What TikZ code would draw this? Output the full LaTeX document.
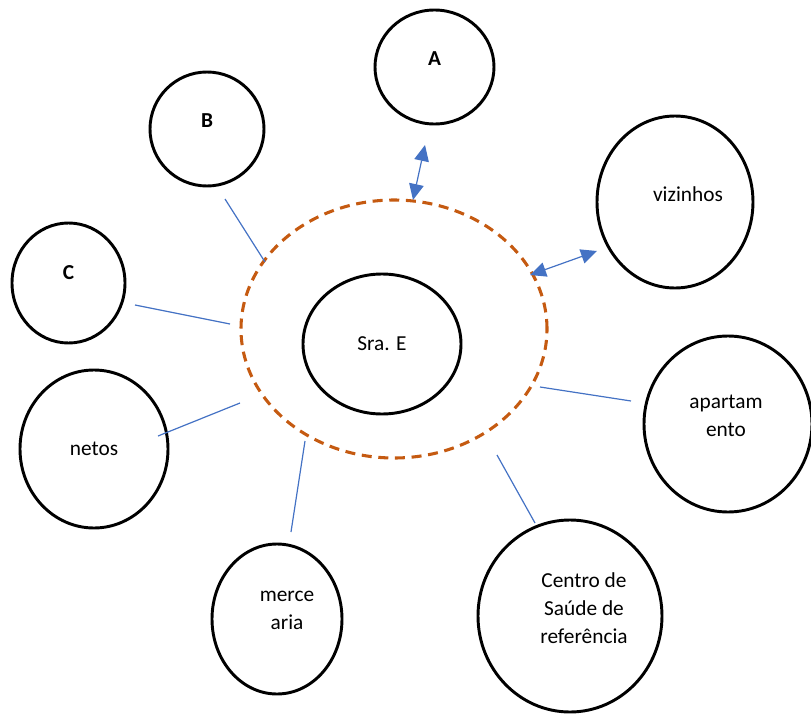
\documentclass[tikz,border=0pt]{standalone}
\usepackage{fontspec}
\setmainfont{Carlito}
\usetikzlibrary{arrows.meta, shapes.geometric}
\definecolor{ringorange}{HTML}{C55A11}
\definecolor{linkblue}{HTML}{4472C4}

\begin{document}
\begin{tikzpicture}[x=0.75pt, y=-0.75pt,
    every node/.style={font=\fontsize{16}{21}\selectfont},
    bubble/.style={ellipse, draw=black, line width=2.2pt, inner sep=0pt},
    ring/.style={ellipse, draw=ringorange, line width=2.3pt, dash pattern=on 7.5pt off 5pt, inner sep=0pt},
    link/.style={draw=linkblue, line width=0.9pt},
    dlink/.style={link, {Triangle[length=12pt, width=11pt]}-{Triangle[length=12pt, width=11pt]}}]
    \useasboundingbox (0,0) rectangle (811,714);

    % inner circle
    \node[ring, minimum width=229.5pt, minimum height=193.5pt] (ring) at (394,329) {};
    \node[bubble, minimum width=118.5pt, minimum height=105pt] (sra) at (382,344) {Sra. E};

    % people and places
    \node[bubble, minimum width=89.25pt, minimum height=85.5pt,
          label={[yshift=6pt]center:\textbf{A}}] (A) at (434.5,67) {};
    \node[bubble, minimum width=85.5pt, minimum height=85.5pt,
          label={[yshift=6pt]center:\textbf{B}}] (B) at (207,129) {};
    \node[bubble, minimum width=84.75pt, minimum height=90pt,
          label={[yshift=7.5pt]center:\textbf{C}}] (C) at (68.5,283) {};
    \node[bubble, minimum width=117pt, minimum height=129pt,
          label={[xshift=9.75pt, yshift=6pt]center:vizinhos}] (viz) at (675,202) {};
    \node[bubble, minimum width=126pt, minimum height=132pt,
          label={[align=center, xshift=-1.5pt, yshift=6pt]center:apartam\\ento}] (apt) at (728,424) {};
    \node[bubble, minimum width=138pt, minimum height=144pt,
          label={[align=center, xshift=10.5pt, yshift=6pt]center:Centro de\\Saúde de\\referência}] (csr) at (570,616) {};
    \node[bubble, minimum width=97.5pt, minimum height=112.5pt,
          label={[align=center, xshift=7.5pt, yshift=6.75pt]center:merce\\aria}] (merc) at (277,619) {};
    \node[bubble, minimum width=111pt, minimum height=118.5pt] (netos) at (94,449) {netos};

    % line ends
    \coordinate (a1) at (413,200);  \coordinate (a2) at (425,145);
    \coordinate (v1) at (530,275);  \coordinate (v2) at (597,251);
    \coordinate (b1) at (225,199);  \coordinate (b2) at (265,262);
    \coordinate (c1) at (135,305);  \coordinate (c2) at (230,324);
    \coordinate (n1) at (158,436);  \coordinate (n2) at (240,403);
    \coordinate (m1) at (291,532);  \coordinate (m2) at (305,441);
    \coordinate (s1) at (535,523);  \coordinate (s2) at (497,455);
    \coordinate (p1) at (631,401);  \coordinate (p2) at (540,387);

    % connectors
    \draw[dlink] (a1) -- (a2);
    \draw[dlink] (v1) -- (v2);
    \draw[link] (b1) -- (b2);
    \draw[link] (c1) -- (c2);
    \draw[link] (n1) -- (n2);
    \draw[link] (m1) -- (m2);
    \draw[link] (s1) -- (s2);
    \draw[link] (p1) -- (p2);
\end{tikzpicture}
\end{document}
